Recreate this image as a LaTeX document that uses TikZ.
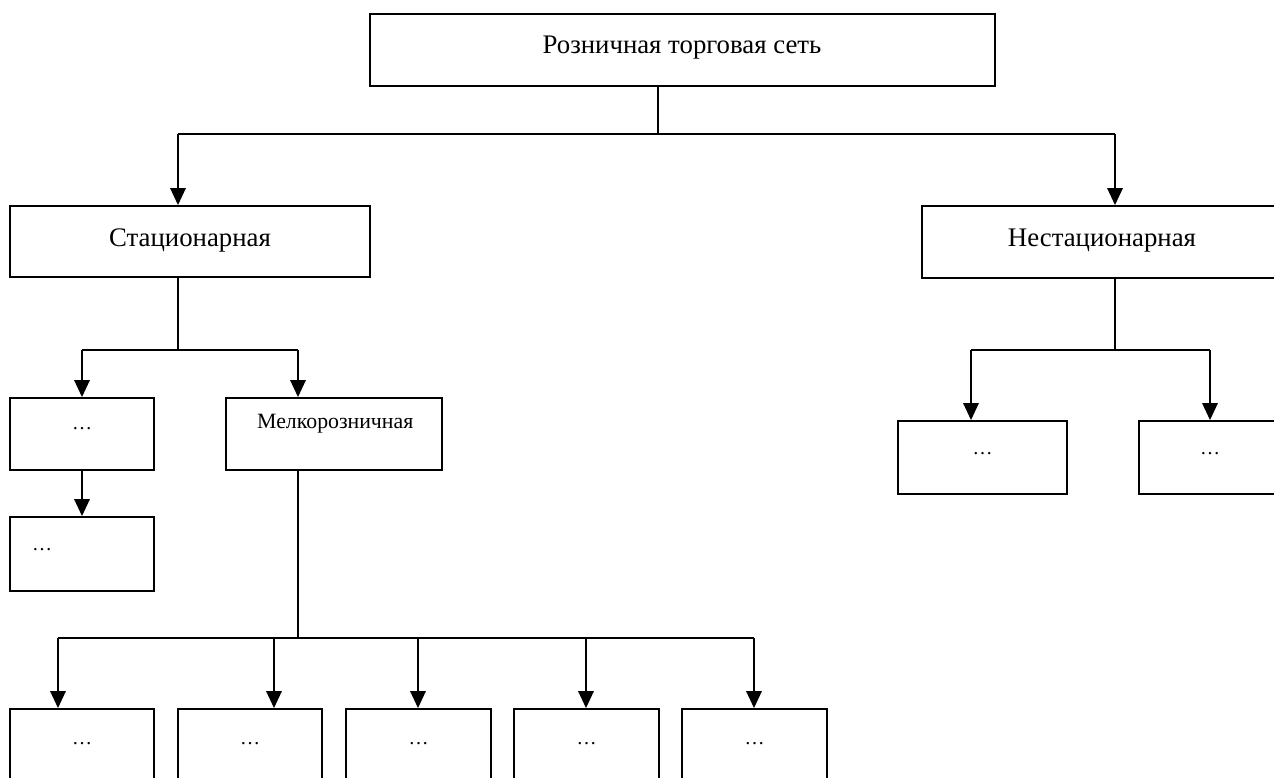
\documentclass[tikz,border=0pt]{standalone}
\usepackage{fontspec}
\setmainfont{Liberation Serif}
\usetikzlibrary{arrows.meta}
\begin{document}
\begin{tikzpicture}[x=1pt,y=-1pt,
  box/.style={draw, line width=1.6pt, inner sep=0pt, rectangle},
  lbl/.style={anchor=base, inner sep=0pt, font=\fontsize{26.8}{30}\selectfont},
  small/.style={anchor=base, inner sep=0pt, font=\fontsize{21.8}{25}\selectfont},
  dots/.style={anchor=base, inner sep=0pt, font=\fontsize{20}{23}\selectfont},
  conn/.style={line width=1.5pt},
  arr/.style={line width=2.8pt, -{Triangle[width=15pt,length=17pt]}}]
\clip (0,0) rectangle (1274,778);
\fill[white] (0,0) rectangle (1274,778);
% boxes
\node[box, minimum width=625pt, minimum height=72pt] (top) at (682.5,50) {};
\node[box, minimum width=360pt, minimum height=71pt] (stat) at (190,241.5) {};
\node[box, minimum width=360pt, minimum height=72pt] (nstat) at (1102,242) {};
\node[box, minimum width=144pt, minimum height=72pt] (d1) at (82,434) {};
\node[box, minimum width=144pt, minimum height=74pt] (d2) at (82,554) {};
\node[box, minimum width=216pt, minimum height=72pt] (melk) at (334,434) {};
\node[box, minimum width=144pt, minimum height=141pt] (b1) at (82,779.5) {};
\node[box, minimum width=144pt, minimum height=141pt] (b2) at (250,779.5) {};
\node[box, minimum width=145pt, minimum height=141pt] (b3) at (418.5,779.5) {};
\node[box, minimum width=145pt, minimum height=141pt] (b4) at (586.5,779.5) {};
\node[box, minimum width=145pt, minimum height=141pt] (b5) at (754.5,779.5) {};
\node[box, minimum width=169pt, minimum height=73pt] (na) at (982.5,457.5) {};
\node[box, minimum width=142pt, minimum height=73pt] (nb) at (1210,457.5) {};
% texts
\node[lbl] (ttop) at (682,54) {Розничная торговая сеть};
\node[lbl] (tstat) at (190,246) {Стационарная};
\node[lbl] (tnstat) at (1102,246) {Нестационарная};
\node[small, anchor=base west] (tmelk) at (257,428) {Мелкорозничная};
\node[dots] (td1) at (82,429) {…};
\node[dots] (td2) at (42,550) {…};
\node[dots] (tb1) at (82,744) {…};
\node[dots] (tb2) at (250,744) {…};
\node[dots] (tb3) at (418.5,744) {…};
\node[dots] (tb4) at (586.5,744) {…};
\node[dots] (tb5) at (754.5,744) {…};
\node[dots] (tna) at (982.5,454) {…};
\node[dots] (tnb) at (1210,454) {…};
% junction coordinates
\coordinate (j0) at (658,134);
\coordinate (jL) at (178,134);
\coordinate (jR) at (1115,134);
\coordinate (sj) at (178,350);
\coordinate (sL) at (82,350);
\coordinate (sR) at (298,350);
\coordinate (mj) at (298,638);
\coordinate (m1) at (58,638);
\coordinate (m2) at (274,638);
\coordinate (m3) at (418,638);
\coordinate (m4) at (586,638);
\coordinate (m5) at (754,638);
\coordinate (nj) at (1115,350);
\coordinate (nL) at (971,350);
\coordinate (nR) at (1210,350);
% connectors
\draw[conn] (j0 |- top.south) -- (j0);
\draw[conn] (jL) -- (jR);
\draw[arr] (jL) -- (jL |- stat.north);
\draw[arr] (jR) -- (jR |- nstat.north);
\draw[conn] (sj |- stat.south) -- (sj);
\draw[conn] (sL) -- (sR);
\draw[arr] (sL) -- (sL |- d1.north);
\draw[arr] (sR) -- (sR |- melk.north);
\draw[arr] (d1.south) -- (d2.north);
\draw[conn] (mj |- melk.south) -- (mj);
\draw[conn] (m1) -- (m5);
\draw[arr] (m1) -- (m1 |- b1.north);
\draw[arr] (m2) -- (m2 |- b2.north);
\draw[arr] (m3) -- (m3 |- b3.north);
\draw[arr] (m4) -- (m4 |- b4.north);
\draw[arr] (m5) -- (m5 |- b5.north);
\draw[conn] (nj |- nstat.south) -- (nj);
\draw[conn] (nL) -- (nR);
\draw[arr] (nL) -- (nL |- na.north);
\draw[arr] (nR) -- (nR |- nb.north);
\end{tikzpicture}
\end{document}
